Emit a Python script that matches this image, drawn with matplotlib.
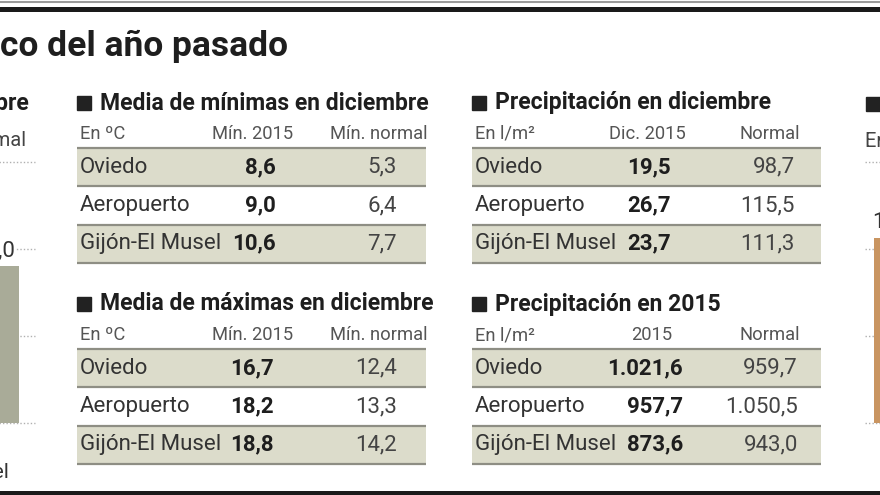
import matplotlib
matplotlib.use("Agg")
import matplotlib.pyplot as plt
from matplotlib.patches import Rectangle

plt.rcParams['font.family'] = ['Roboto', 'DejaVu Sans']

# datos de las tablas
stations = ['Oviedo', 'Aeropuerto', 'Gijón-El Musel']
min_2015 = [8.6, 9.0, 10.6]
min_normal = [5.3, 6.4, 7.7]
max_2015 = [16.7, 18.2, 18.8]
max_normal = [12.4, 13.3, 14.2]
lluvia_dic_2015 = [19.5, 26.7, 23.7]
lluvia_dic_normal = [98.7, 115.5, 111.3]
lluvia_2015 = [1021.6, 957.7, 873.6]
lluvia_normal = [959.7, 1050.5, 943.0]

# graficos cortados a los lados
left_bar = [18.0]
right_bar = [106.3]

SHADE = '#dcdccb'
LINE = '#8e8e84'
GREY = '#555555'


def es(v):
    s = f"{v:,.1f}"
    return s.replace(',', 'X').replace('.', ',').replace('X', '.')


def table(ax, x0, x1, top, title, unit, h1, h2, vals1, vals2, c1_head, c2_head, c1_right, c2_right):
    ax.add_patch(Rectangle((x0, top - 7), 14, 14, color='#222222'))
    ax.text(x0 + 23, top, title, fontsize=16.5, fontweight='bold', color='#1e1e1e', va='center')
    ax.text(x0 + 3, top + 31, unit, fontsize=13.2, color=GREY, va='center')
    ax.text(c1_head, top + 31, h1, fontsize=13.2, color=GREY, va='center', ha='center')
    ax.text(c2_head, top + 31, h2, fontsize=13.2, color=GREY, va='center', ha='right')
    rh = 38.3
    y0 = top + 45
    for i, name in enumerate(stations):
        y = y0 + i * rh
        if i % 2 == 0:
            ax.add_patch(Rectangle((x0, y), x1 - x0, rh, color=SHADE, lw=0))
        ax.plot([x0, x1], [y, y], color=LINE, lw=1.6, solid_capstyle='butt')
        ax.text(x0 + 3, y + rh / 2, name, fontsize=16, color='#333333', va='center')
        ax.text(c1_right, y + rh / 2, es(vals1[i]), fontsize=16, fontweight='bold',
                color='#1e1e1e', va='center', ha='right')
        ax.text(c2_right, y + rh / 2, es(vals2[i]), fontsize=16, color='#444444',
                va='center', ha='right')
    yb = y0 + len(stations) * rh
    ax.plot([x0, x1], [yb, yb], color=LINE, lw=1.6, solid_capstyle='butt')


fig = plt.figure(figsize=(8.8, 4.95), dpi=100)
ax = fig.add_axes([0, 0, 1, 1])
ax.set_xlim(0, 880)
ax.set_ylim(495, 0)
ax.axis('off')

# filetes de arriba y abajo
ax.plot([0, 880], [2, 2], color='#9a9a9a', lw=1.5)
ax.add_patch(Rectangle((0, 6.5), 880, 5, color='#1a1a1a', lw=0))
ax.add_patch(Rectangle((0, 491), 880, 5, color='#1a1a1a', lw=0))

ax.text(0, 46, 'co del año pasado', fontsize=25.5, fontweight='bold', color='#1e1e1e', va='center')

table(ax, 77, 426, 103, 'Media de mínimas en diciembre', 'En ºC', 'Mín. 2015', 'Mín. normal',
      min_2015, min_normal, 253, 427, 276, 397)
table(ax, 77, 426, 304, 'Media de máximas en diciembre', 'En ºC', 'Mín. 2015', 'Mín. normal',
      max_2015, max_normal, 253, 427, 274, 397)
table(ax, 472, 821, 103, 'Precipitación en diciembre', 'En l/m²', 'Dic. 2015', 'Normal',
      lluvia_dic_2015, lluvia_dic_normal, 647, 800, 671, 795)
table(ax, 472, 821, 304, 'Precipitación en 2015', 'En l/m²', '2015', 'Normal',
      lluvia_2015, lluvia_normal, 652, 800, 683, 798)

# textos del grafico cortado a la izquierda
ax.text(29, 103, 'en diciembre', fontsize=16.5, fontweight='bold', color='#1e1e1e', va='center', ha='right')
ax.text(27, 141, 'Normal', fontsize=14.5, color='#444444', va='center', ha='right')
ax.text(9, 473, 'Musel', fontsize=15, color='#333333', va='center', ha='right')

# textos del grafico cortado a la derecha
ax.add_patch(Rectangle((866, 97), 14, 14, color='#222222'))
ax.text(865, 141, 'En l/m²', fontsize=14.5, color='#444444', va='center')

W, H = 880.0, 495.0


def side_chart(px0, px1, xlim, vals, ymax, color):
    a = fig.add_axes([px0 / W, (H - 423) / H, (px1 - px0) / W, (423 - 162) / H])
    a.set_xlim(*xlim)
    a.set_ylim(0, ymax)
    for g in [0, ymax / 3, 2 * ymax / 3, ymax]:
        a.axhline(g, color='#b0b0b0', lw=1, ls=(0, (1, 1.5)), zorder=0, clip_on=False)
    a.bar(range(len(vals)), vals, width=0.8, color=color, zorder=2)
    for i, v in enumerate(vals):
        a.text(i, v + ymax * 0.02, es(v), fontsize=16, color='#333333', ha='center', va='bottom',
               bbox=dict(facecolor='white', edgecolor='none', pad=0.5), zorder=3)
    a.axis('off')
    return a


side_chart(-60, 35, (-0.864, 0.656), left_bar, 30, '#a9ab98')
side_chart(865, 1000, (-0.54, 1.6), right_bar, 150, '#c99561')

fig.savefig('out.png', dpi=100)
